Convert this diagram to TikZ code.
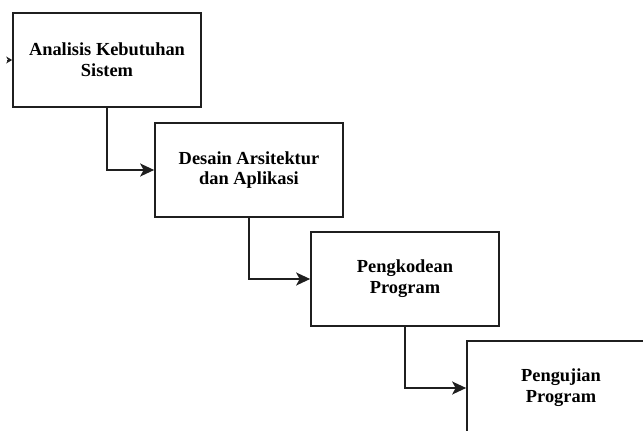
\documentclass[tikz,border=0pt]{standalone}
\usepackage{fontspec}
\setmainfont{Liberation Serif}
\usetikzlibrary{arrows.meta}
\tikzset{
  stagebox/.style={draw=black!88, line width=1.7pt, minimum width=188pt, minimum height=94pt,
    inner sep=0pt, align=center, font=\fontsize{18.4}{20.8}\selectfont\bfseries},
  flowline/.style={draw=black!88, line width=1.6pt, -{Stealth[length=14pt,width=13pt,inset=3.5pt]}},
}
\begin{document}
\begin{tikzpicture}[x=1pt,y=-1pt]
\clip (0,0) rectangle (643,431);
\fill[white] (0,0) rectangle (643,431);
\node[stagebox] (b1) at (107,60) {Analisis Kebutuhan\\Sistem};
\node[stagebox] (b2) at (249,170) {Desain Arsitektur\\dan Aplikasi};
\node[stagebox] (b3) at (405,279) {Pengkodean\\Program};
\node[stagebox] (b4) at (561,388) {Pengujian\\Program};
\coordinate (in) at (7,60);
\draw[draw=black!88, line width=1pt, -{Stealth[length=6pt,width=7pt]}] (in) -- (b1.west);
\draw[flowline] (b1.south) |- (b2.west);
\draw[flowline] (b2.south) |- (b3.west);
\draw[flowline] (b3.south) |- (b4.west);
\end{tikzpicture}
\end{document}
